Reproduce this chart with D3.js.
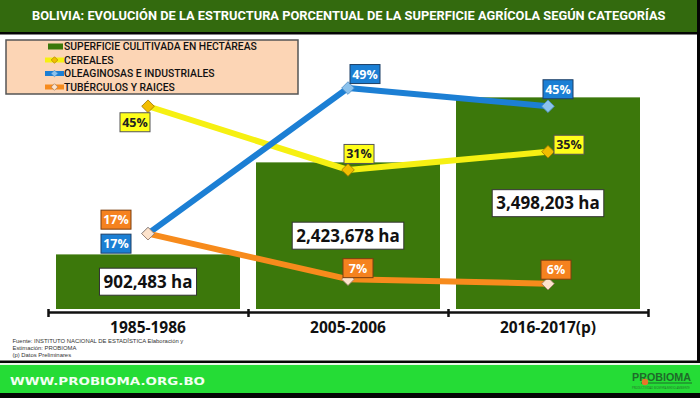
<!DOCTYPE html>
<html>
<head>
<meta charset="utf-8">
<script src="https://cdn.jsdelivr.net/npm/d3@7"></script>
<style>
  body { margin: 0; background: #000; }
  svg { display: block; }
</style>
</head>
<body>
<div class="chart"></div>
<script>
const width = 700;
const height = 398;

// data
const periods = ['1985-1986', '2005-2006', '2016-2017(p)'];
const hectares = [902483, 2423678, 3498203];
const cereales = [45, 31, 35];
const oleaginosas = [17, 49, 45];
const tuberculos = [17, 7, 6];
const legendNames = ['SUPERFICIE CULITIVADA EN HECTÁREAS', 'CEREALES', 'OLEAGINOSAS E INDUSTRIALES', 'TUBÉRCULOS Y RAICES'];
const titleText = 'BOLIVIA: EVOLUCIÓN DE LA ESTRUCTURA PORCENTUAL DE LA SUPERFICIE AGRÍCOLA SEGÚN CATEGORÍAS';
const sourceLines = ['Fuente: INSTITUTO NACIONAL DE ESTADÍSTICA Elaboración y', 'Estimación:  PROBIOMA', '(p) Datos Preliminares'];

// line series + label placement (offsets from the point)
const series = [
  {values: cereales, line: '#f6f012', marker: '#f2bd00', mstroke: '#a07a00', box: '#ffff1a', text: '#222', bstroke: '#555',
   offs: [[-13, 16], [11, -16], [21, -7]]},
  {values: oleaginosas, line: '#1c7fd4', marker: '#8cc2ec', mstroke: '#4f8fc8', box: '#1b7fd4', text: '#fff', bstroke: '#1d3f66',
   offs: [[-32, 10], [17, -14], [10, -17]]},
  {values: tuberculos, line: '#f78b1c', marker: '#fde3cc', mstroke: '#9a7a66', box: '#f5821f', text: '#fff', bstroke: '#7a3e10',
   offs: [[-32, -14], [10, -11], [8, -14]]}
];

// shrink/grow a text's font so its natural width hits the target
const fitSize = (sel, target) => {
  const fs = +sel.attr('font-size');
  const w = sel.node().getComputedTextLength();
  const nfs = fs * target / w;
  sel.attr('font-size', nfs);
  return nfs;
};

const svg = d3.select('.chart').append('svg')
  .attr('width', width).attr('height', height)
  .style('font-family', '"Open Sans", sans-serif');

// frame: title bar, white panel, footer
svg.append('rect').attr('x', 0).attr('y', 0).attr('width', width).attr('height', height).attr('fill', '#050505');
svg.append('rect').attr('x', 0).attr('y', 0).attr('width', 697).attr('height', 32).attr('fill', '#336a0e');
svg.append('rect').attr('x', 0).attr('y', 34.5).attr('width', 697).attr('height', 326).attr('fill', '#fff');
svg.append('rect').attr('x', 0).attr('y', 363).attr('width', 700).attr('height', 2).attr('fill', '#e8f5e8');
svg.append('rect').attr('x', 0).attr('y', 365).attr('width', 700).attr('height', 28).attr('fill', '#25dc36');

const title = svg.append('text')
  .attr('x', 32).attr('y', 20)
  .attr('font-family', 'Roboto, sans-serif')
  .attr('fill', '#fff').attr('font-weight', 700).attr('font-size', 12)
  .text(titleText);
fitSize(title, 634);

// scales
const x = d3.scaleBand().domain(periods).range([48, 648]).paddingInner(0.08).paddingOuter(0.04);
const y = d3.scaleLinear().domain([0, 4000000]).range([309, 67]);
const yPct = d3.scaleLinear().domain([0, 50]).range([311, 83.5]);
const edges = d3.scaleLinear().domain([0, periods.length]).range([48, 648]);

// bars
svg.append('g').selectAll('rect')
  .data(hectares).join('rect')
  .attr('x', (d, i) => x(periods[i]))
  .attr('y', d => y(d))
  .attr('width', x.bandwidth())
  .attr('height', d => y(0) - y(d))
  .attr('fill', '#3c780b');

// bar value labels
const fmt = d3.format(',');
const barLab = svg.append('g').selectAll('g')
  .data(hectares).join('g')
  .attr('transform', (d, i) => `translate(${x(periods[i]) + x.bandwidth() / 2},${(y(d) + y(0)) / 2})`);
barLab.append('text')
  .attr('text-anchor', 'middle').attr('dy', '0.36em')
  .attr('font-size', 17).attr('font-weight', 700).attr('fill', '#111')
  .text(d => fmt(d) + ' ha');
barLab.each(function() {
  const g = d3.select(this);
  const b = g.select('text').node().getBBox();
  g.insert('rect', 'text')
    .attr('x', b.x - 4).attr('y', -13.5).attr('width', b.width + 8).attr('height', 27)
    .attr('fill', '#fff').attr('stroke', '#333').attr('stroke-width', 1);
});

// axis with ticks on category edges
const axisG = svg.append('g').attr('transform', 'translate(0,312)');
axisG.call(d3.axisBottom(edges).tickValues(d3.range(periods.length + 1)).tickFormat('').tickSizeInner(5).tickSizeOuter(0));
axisG.select('.domain').attr('stroke', '#111').attr('stroke-width', 2.5);
axisG.selectAll('.tick line').attr('stroke', '#111').attr('stroke-width', 2.5).attr('y1', -3);

svg.append('g').selectAll('text')
  .data(periods).join('text')
  .attr('x', d => x(d) + x.bandwidth() / 2)
  .attr('y', 333)
  .attr('text-anchor', 'middle')
  .attr('font-size', 15.5).attr('font-weight', 700).attr('fill', '#111')
  .text(d => d);

// lines
const cx = i => x(periods[i]) + x.bandwidth() / 2;
const line = d3.line().x((d, i) => cx(i)).y(d => yPct(d));
const diamond = d3.symbol(d3.symbolSquare, 80);

series.forEach(s => {
  svg.append('path')
    .attr('d', line(s.values))
    .attr('fill', 'none').attr('stroke', s.line).attr('stroke-width', 6)
    .attr('stroke-linejoin', 'round');
});
series.forEach(s => {
  svg.append('g').selectAll('path')
    .data(s.values).join('path')
    .attr('d', diamond)
    .attr('transform', (d, i) => `translate(${cx(i)},${yPct(d)}) rotate(45)`)
    .attr('fill', s.marker).attr('stroke', s.mstroke).attr('stroke-width', 0.8);
});

// percent labels
series.forEach(s => {
  const lab = svg.append('g').selectAll('g')
    .data(s.values).join('g')
    .attr('transform', (d, i) => `translate(${cx(i) + s.offs[i][0]},${yPct(d) + s.offs[i][1]})`);
  lab.append('rect')
    .attr('x', -15).attr('y', -9.5).attr('width', 30).attr('height', 19)
    .attr('fill', s.box).attr('stroke', s.bstroke).attr('stroke-width', 1);
  lab.append('text')
    .attr('text-anchor', 'middle').attr('dy', '0.36em')
    .attr('font-size', 12.5).attr('font-weight', 700).attr('fill', s.text)
    .text(d => d + '%');
});

// legend
const legend = svg.append('g');
legend.append('rect')
  .attr('x', 6).attr('y', 40).attr('width', 292).attr('height', 54)
  .attr('fill', '#fcd5b5').attr('stroke', '#555').attr('stroke-width', 1.5);
const legY = d3.scalePoint().domain(legendNames).range([46.5, 87]);
legend.append('rect')
  .attr('x', 48).attr('y', legY(legendNames[0]) - 3).attr('width', 15).attr('height', 6)
  .attr('fill', '#3c780b');
series.forEach((s, i) => {
  const yy = legY(legendNames[i + 1]);
  legend.append('line')
    .attr('x1', 45).attr('x2', 64).attr('y1', yy).attr('y2', yy)
    .attr('stroke', s.line).attr('stroke-width', 5);
  legend.append('path')
    .attr('d', d3.symbol(d3.symbolSquare, 22)())
    .attr('transform', `translate(54.5,${yy}) rotate(45)`)
    .attr('fill', s.marker).attr('stroke', s.mstroke).attr('stroke-width', 0.6);
});
const legText = legend.selectAll('text')
  .data(legendNames).join('text')
  .attr('x', 64).attr('y', d => legY(d))
  .attr('dy', '0.37em')
  .attr('font-size', 11).attr('font-weight', 500).attr('fill', '#111')
  .attr('font-family', 'Roboto, sans-serif')
  .text(d => d);
const legSize = fitSize(d3.select(legText.nodes()[0]), 193);
legText.attr('font-size', legSize);

// source note
const src = svg.append('g').selectAll('text')
  .data(sourceLines).join('text')
  .attr('x', 12.5).attr('y', (d, i) => 343.3 + i * 6.7)
  .attr('font-family', '"Liberation Sans Narrow", sans-serif')
  .attr('font-size', 6.6).attr('fill', '#333')
  .text(d => d);
src.attr('font-size', fitSize(d3.select(src.nodes()[0]), 171));

// footer
svg.append('text')
  .attr('x', 10).attr('y', 385)
  .attr('textLength', 195).attr('lengthAdjust', 'spacingAndGlyphs')
  .attr('font-family', '"DejaVu Sans", sans-serif')
  .attr('font-size', 10.5).attr('font-weight', 700).attr('fill', '#f2fff2')
  .text('WWW.PROBIOMA.ORG.BO');

const logo = svg.append('g');
const logoText = logo.append('text')
  .attr('x', 632).attr('y', 381)
  .attr('font-family', '"Liberation Sans Narrow", sans-serif')
  .attr('font-size', 13).attr('font-weight', 700).attr('fill', '#1f6b2a')
  .text('PROBIOMA');
fitSize(logoText, 59);
logo.append('line')
  .attr('x1', 641).attr('x2', 692).attr('y1', 383).attr('y2', 383)
  .attr('stroke', '#1f6b2a').attr('stroke-width', 1);
logo.append('circle')
  .attr('cx', 645).attr('cy', 382).attr('r', 3.2).attr('fill', '#e8752a');
const sub = logo.append('text')
  .attr('x', 632).attr('y', 388.5)
  .attr('font-size', 3).attr('fill', '#2a6a30')
  .text('PRODUCTIVIDAD BIOSFERA MEDIO AMBIENTE');
fitSize(sub, 58);
</script>
</body>
</html>
